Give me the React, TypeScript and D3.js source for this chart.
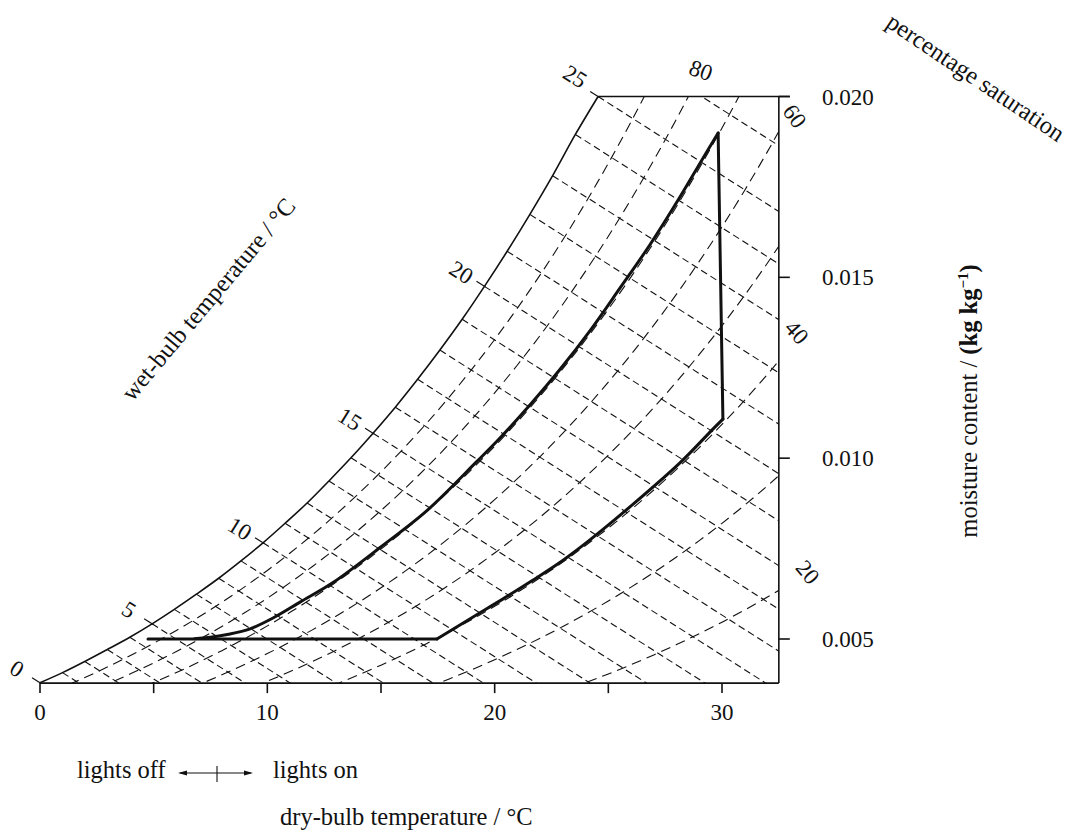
import React from "react";
import * as d3 from "d3";

// ---------- data ----------
// standard saturation moisture content table (dry-bulb °C -> kg/kg)
const satTableT = [0,1,2,3,4,5,6,7,8,9,10,11,12,13,14,15,16,17,18,19,20,21,22,23,24,25,26,27,28,29,30,31,32,33];
const satTableW = [0.003789,0.004076,0.004381,0.004707,0.005054,0.005424,0.005818,0.006237,0.006683,0.007157,0.007661,0.008197,0.008766,0.009370,0.010012,0.010692,0.011413,0.012178,0.012989,0.013848,0.014758,0.015721,0.016741,0.017821,0.018963,0.020170,0.021448,0.022798,0.024226,0.025735,0.027329,0.029014,0.030793,0.032674];

// wet-bulb temperatures and their points on the drawn saturation curve
const wetBulbT = [0,1,2,3,4,5,6,7,8,9,10,11,12,13,14,15,16,17,18,19,20,21,22,23,24,25,26];
const wetBulbSatT = [0,0.99,1.97,2.96,3.95,4.93,5.91,6.88,7.86,8.84,9.81,10.78,11.75,12.71,13.68,14.65,15.63,16.61,17.59,18.57,19.55,20.55,21.55,22.55,23.55,24.55,25.55];
const wetBulbSatW = [0.00379,0.00407,0.00438,0.00471,0.00505,0.00542,0.00582,0.00624,0.00668,0.00716,0.00766,0.00820,0.00876,0.00937,0.01001,0.01069,0.01141,0.01218,0.01299,0.01384,0.01475,0.01572,0.01674,0.01781,0.01895,0.02000,0.02142];
const wetBulbLabels = [0,5,10,15,20,25];
const wetBulbSlope = -0.0004; // kg/kg per °C along a wet-bulb line

const pctLevels = [20,30,40,50,60,70,80,90];
const pctLabels = ["80","60","40","20"];

const xTicks = [0,5,10,15,20,25,30];
const xTickLabels = [0,10,20,30];
const yTicks = [0.005,0.010,0.015,0.020];

const T_MAX = 32.5;
const W_MIN = 0.00378;
const W_MAX = 0.020;

// lights cycle
const flatT = [4.75,17.46];
const flatW = [0.005,0.005];
const lowerT = [17.46,19.05,20.37,21.69,23.01,24.19,26.0,28.15,29.61,30.04];
const lowerW = [0.00500,0.00561,0.00611,0.00663,0.00718,0.00774,0.00868,0.00987,0.01081,0.01108];
const riseT = [30.04,29.83];
const riseW = [0.01108,0.01899];
const upperT = [29.83,29.17,28.15,26.83,25.51,24.19,22.87,21.55,20.15,19.22,17.02,14.96,12.89,11.44,10.25,9.24,8.3,7.5,6.8];
const upperW = [0.01899,0.01830,0.01722,0.01590,0.01470,0.01352,0.01245,0.01147,0.01050,0.00991,0.00855,0.00753,0.00656,0.00602,0.00558,0.00528,0.00513,0.00505,0.00501];

// ---------- layout ----------
const FONT = "'Liberation Serif', 'Times New Roman', serif";
const FS = 23;
const FT = 24.5;
const pctLabelPos = [
  { x: 701, y: 70, r: 20 },
  { x: 795, y: 116, r: 55 },
  { x: 797, y: 332, r: 48 },
  { x: 808, y: 572, r: 50 },
];

export default function App() {
  const x = d3.scaleLinear().domain([0, 30]).range([40, 722]);
  const y = d3.scaleLinear().domain([0.005, 0.020]).range([639, 96.5]);

  const smooth = d3.line<[number, number]>().x(d => x(d[0])).y(d => y(d[1])).curve(d3.curveCatmullRom.alpha(0.5));
  const straight = d3.line<[number, number]>().x(d => x(d[0])).y(d => y(d[1]));
  const mono = d3.line<[number, number]>().x(d => x(d[0])).y(d => y(d[1])).curve(d3.curveMonotoneX);

  const zip = (a: number[], b: number[]) => a.map((v, i) => [v, b[i]] as [number, number]);

  const satCurve = zip(wetBulbSatT.slice(0, 26), wetBulbSatW.slice(0, 26));
  const pctPaths = pctLevels.map(p => mono(satTableT.map((t, i) => [t, (p / 100) * satTableW[i]] as [number, number])));

  const wbLines = wetBulbT.map((tw, i) => {
    const t0 = wetBulbSatT[i];
    const w0 = wetBulbSatW[i];
    const dt = 20;
    return straight([[t0, w0], [t0 + dt, w0 + wetBulbSlope * dt]]);
  });
  const ext = 0.35;
  const wbTicks = wetBulbLabels.map(tw => {
    const i = wetBulbT.indexOf(tw);
    const t0 = wetBulbSatT[i];
    const w0 = wetBulbSatW[i];
    return straight([[t0 - ext, w0 - wetBulbSlope * ext], [t0 + 0.05, w0 + wetBulbSlope * 0.05]]);
  });
  const ang = 32 * Math.PI / 180;

  const x0 = x(0), xR = x(T_MAX), yB = y(W_MIN), yT = y(W_MAX);
  const satTopT = wetBulbSatT[25];

  return (
    <svg width={1072} height={834} style={{ position: "absolute", left: 0, top: 0, background: "#fff" }} fontFamily={FONT}>
      <defs>
        <clipPath id="plotClip">
          <rect x={0} y={yT} width={xR} height={yB - yT} />
        </clipPath>
      </defs>
      <rect x={0} y={0} width={1072} height={834} fill="#fff" />

      {/* percentage saturation lines */}
      <g clipPath="url(#plotClip)" fill="none" stroke="#111" strokeWidth={1.1} strokeDasharray="10,6">
        {pctPaths.map((d, i) => <path key={i} d={d || ""} />)}
      </g>
      {/* wet-bulb lines */}
      <g clipPath="url(#plotClip)" fill="none" stroke="#111" strokeWidth={1.1} strokeDasharray="7,4">
        {wbLines.map((d, i) => <path key={i} d={d || ""} />)}
      </g>
      <g fill="none" stroke="#111" strokeWidth={1.2}>
        {wbTicks.map((d, i) => <path key={i} d={d || ""} />)}
      </g>

      {/* saturation curve */}
      <path d={smooth(satCurve) || ""} fill="none" stroke="#111" strokeWidth={1.6} />

      {/* frame */}
      <g stroke="#111" strokeWidth={1.6} fill="none">
        <line x1={x(satTopT)} y1={yT} x2={xR + 11} y2={yT} />
        <line x1={xR} y1={yT} x2={xR} y2={yB} />
        <line x1={x0} y1={yB} x2={xR} y2={yB} />
        {xTicks.map(t => <line key={t} x1={x(t)} x2={x(t)} y1={yB} y2={yB + 10} />)}
        {yTicks.map(w => <line key={w} x1={xR} x2={xR + 11} y1={y(w)} y2={y(w)} />)}
      </g>

      {/* lights cycle */}
      <g fill="none" stroke="#111" strokeWidth={3} strokeLinecap="round" strokeLinejoin="round">
        <path d={straight(zip(flatT, flatW)) || ""} />
        <path d={smooth(zip(lowerT, lowerW)) || ""} />
        <path d={straight(zip(riseT, riseW)) || ""} />
        <path d={smooth(zip(upperT, upperW)) || ""} />
      </g>

      {/* tick labels */}
      <g fontSize={FS} fill="#111" textAnchor="middle">
        {xTickLabels.map(t => <text key={t} x={x(t)} y={720}>{t}</text>)}
      </g>
      <g fontSize={FS} fill="#111">
        {yTicks.map(w => <text key={w} x={822} y={y(w) + 8}>{w.toFixed(3)}</text>)}
      </g>

      {/* wet-bulb labels */}
      <g fontSize={FS} fill="#111" textAnchor="middle">
        {wetBulbLabels.map(tw => {
          const i = wetBulbT.indexOf(tw);
          const px = x(wetBulbSatT[i]) - 27 * Math.cos(ang);
          const py = y(wetBulbSatW[i]) - 27 * Math.sin(ang) - (tw === 25 ? 6 : 0);
          return (
            <text key={tw} transform={`translate(${px},${py}) rotate(32)`} dy="0.35em">{tw}</text>
          );
        })}
      </g>

      {/* percentage labels */}
      <g fontSize={FS} fill="#111" textAnchor="middle">
        {pctLabels.map((l, i) => (
          <text key={l} transform={`translate(${pctLabelPos[i].x},${pctLabelPos[i].y}) rotate(${pctLabelPos[i].r})`} dy="0.35em">{l}</text>
        ))}
      </g>

      {/* axis titles */}
      <text fontSize={FT} fill="#111" textAnchor="middle" transform="translate(208,299) rotate(-50)" dy="0.35em">wet-bulb temperature / °C</text>
      <text fontSize={FT} fill="#111" textAnchor="middle" transform="translate(976,77) rotate(34)" dy="0.35em">percentage saturation</text>
      <text fontSize={FT} fill="#111" textAnchor="middle" transform="translate(968,401) rotate(-90)" dy="0.35em">
        <tspan>moisture content / </tspan>
        <tspan fontWeight="bold">(kg kg</tspan>
        <tspan fontWeight="bold" fontSize={15} dy={-9}>−1</tspan>
        <tspan fontWeight="bold" dy={9}>)</tspan>
      </text>
      <text fontSize={FT} fill="#111" x={280} y={825}>dry-bulb temperature / °C</text>

      {/* legend */}
      <text fontSize={FT} fill="#111" x={77} y={778}>lights off</text>
      <text fontSize={FT} fill="#111" x={273} y={778}>lights on</text>
      <g stroke="#111" strokeWidth={1.1}>
        <line x1={180} y1={773} x2={251} y2={773} />
        <line x1={217} y1={766} x2={217} y2={782} />
      </g>
      <polygon points="178,773 187,770.5 187,775.5" fill="#111" />
      <polygon points="253,773 244,770.5 244,775.5" fill="#111" />
    </svg>
  );
}
